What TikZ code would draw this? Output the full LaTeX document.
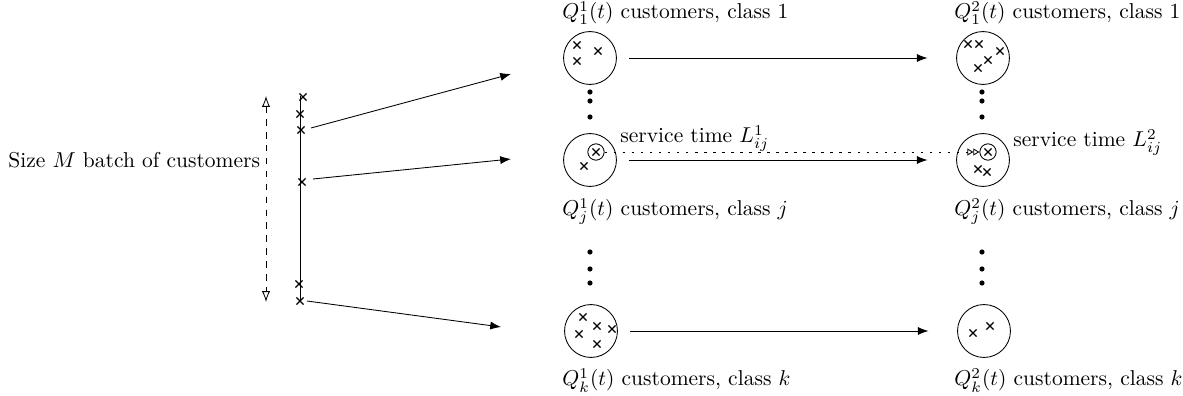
\documentclass[tikz,border=0pt]{standalone}
\usetikzlibrary{arrows.meta,shapes.misc}
\begin{document}
\begin{tikzpicture}[x=0.465pt,y=-0.465pt,
  queue/.style={circle,draw,minimum size=24.6pt,inner sep=0pt},
  srv/.style={circle,draw,minimum size=7.6pt,inner sep=0pt},
  xm/.style={cross out,draw,minimum size=2.8pt,inner sep=0pt,line width=0.5pt},
  vdot/.style={circle,fill,minimum size=2.4pt,inner sep=0pt},
  lbl/.style={anchor=base west,inner sep=0pt},
  flow/.style={-{Latex[length=5pt,width=3.8pt]}},
  dotline/.style={dash pattern=on 1.2pt off 3pt},
]
\useasboundingbox (0,0) rectangle (1183,396);

% batch
\node[anchor=west,inner sep=0pt] (batchtxt) at (8,160) {Size $M$ batch of customers};
\coordinate (dtop) at (266,96);
\coordinate (dbot) at (266,302);
\draw[dashed,{Latex[open,length=5pt,width=3.8pt]}-{Latex[open,length=5pt,width=3.8pt]}] (dtop) -- (dbot);
\coordinate (btop) at (300,96);
\coordinate (bbot) at (300,302);
\draw (btop) -- (bbot);
\node[xm] (b1) at (303,97) {};
\node[xm] (b2) at (300,114) {};
\node[xm] (b3) at (301,130) {};
\node[xm] (b4) at (302,182) {};
\node[xm] (b5) at (299,284) {};
\node[xm] (b6) at (300,301) {};

\coordinate (a1s) at (311,128);
\coordinate (a1e) at (511,74);
\coordinate (a2s) at (313,179);
\coordinate (a2e) at (511,159);
\coordinate (a3s) at (307,301);
\coordinate (a3e) at (501,327);
\draw[flow] (a1s) -- (a1e);
\draw[flow] (a2s) -- (a2e);
\draw[flow] (a3s) -- (a3e);

% queues, stage 1
\node[queue] (L1) at (590,58) {};
\node[queue] (Lj) at (590,160) {};
\node[queue] (Lk) at (591,331) {};
% queues, stage 2
\node[queue] (R1) at (983,58) {};
\node[queue] (Rj) at (983,160) {};
\node[queue] (Rk) at (984,331) {};

% customers
\node[xm] (c11) at (577,45) {};
\node[xm] (c12) at (598,51) {};
\node[xm] (c13) at (577,61) {};
\node[xm] (cj1) at (584,166) {};
\node[xm] (ck1) at (583,317) {};
\node[xm] (ck2) at (597,326) {};
\node[xm] (ck3) at (612,329) {};
\node[xm] (ck4) at (579,334) {};
\node[xm] (ck5) at (597,344) {};

\node[xm] (d11) at (968,44) {};
\node[xm] (d12) at (979,44) {};
\node[xm] (d13) at (1000,51) {};
\node[xm] (d14) at (988,60) {};
\node[xm] (d15) at (978,68) {};
\node[xm] (dj1) at (978,169) {};
\node[xm] (dj2) at (987,172) {};
\node[xm] (dk1) at (973,333) {};
\node[xm] (dk2) at (990,326) {};

% in service
\node[srv] (sL) at (596,152) {};
\node[xm] (sLx) at (596,152) {};
\node[srv] (sR) at (988,152) {};
\node[xm] (sRx) at (988,152) {};

% dots
\foreach \n/\x/\y in {u1/590/92,u2/590/101,u3/590/117,l1/590/252,l2/590/269,l3/590/283,
                      v1/982/92,v2/982/101,v3/982/117,m1/982/252,m2/982/269,m3/982/283}
  \node[vdot] (dot\n) at (\x,\y) {};

% flows between stages
\draw[flow,shorten <=5.8pt,shorten >=13.3pt] (L1) -- (R1);
\draw[flow,shorten <=5.8pt,shorten >=13.3pt] (Lj) -- (Rj);
\draw[flow,shorten <=5.8pt,shorten >=13.3pt] (Lk) -- (Rk);
\draw[dotline,-{Triangle[open,length=2.8pt,width=3.2pt]Triangle[open,length=2.8pt,width=3.2pt]}] (sL) -- (sR);

% labels
\node[lbl] (t1) at (562,19) {$Q^1_1(t)$ customers, class 1};
\node[lbl] (t2) at (954,19) {$Q^2_1(t)$ customers, class 1};
\node[lbl] (t3) at (562,216) {$Q^1_j(t)$ customers, class $j$};
\node[lbl] (t4) at (954,216) {$Q^2_j(t)$ customers, class $j$};
\node[lbl] (t5) at (562,386) {$Q^1_k(t)$ customers, class $k$};
\node[lbl] (t6) at (954,386) {$Q^2_k(t)$ customers, class $k$};
\node[lbl] (s1) at (620,143) {service time $L^1_{ij}$};
\node[lbl] (s2) at (1013,147) {service time $L^2_{ij}$};
\end{tikzpicture}
\end{document}
